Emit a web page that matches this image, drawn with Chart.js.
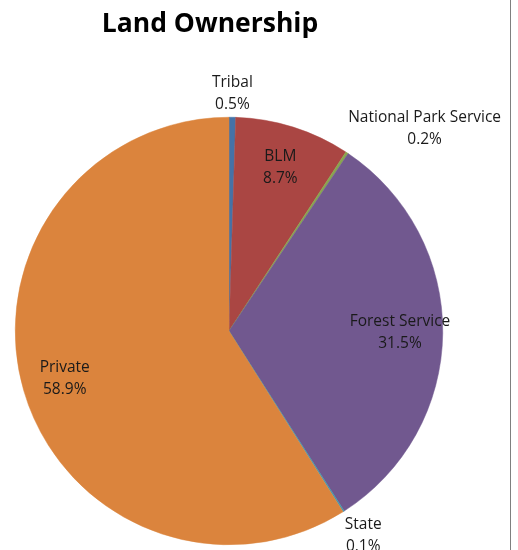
<!DOCTYPE html>
<html>
<head>
<meta charset="utf-8">
<script src="https://cdn.jsdelivr.net/npm/chart.js@4/dist/chart.umd.min.js"></script>
<style>
    html, body { margin: 0; padding: 0; background: #fff; }
    #wrap { position: relative; width: 518px; height: 550px; }
    #edge { position: absolute; left: 510px; top: 0; width: 1px; height: 550px; background: #7f7f7f; }
</style>
</head>
<body>
<div id="wrap">
    <canvas id="landChart" width="518" height="550"></canvas>
    <div id="edge"></div>
</div>
<script>
// 数据
const owners = ['Tribal', 'BLM', 'National Park Service', 'Forest Service', 'State', 'Private'];
const shares = [0.5, 8.7, 0.2, 31.5, 0.1, 58.9];
const sliceColors = ['#4572A7', '#AA4643', '#89A54E', '#71588F', '#4198AF', '#DB843D'];

const labelFont = '15.5px "Open Sans"';

// 标题
const titlePlugin = {
    id: 'plainTitle',
    afterDraw(chart) {
        const ctx = chart.ctx;
        ctx.save();
        ctx.font = 'bold 26.5px "Open Sans"';
        ctx.fillStyle = '#000';
        ctx.textAlign = 'center';
        ctx.textBaseline = 'middle';
        ctx.fillText('Land Ownership', 210, 24);
        ctx.restore();
    }
};

// 数据标签：小扇区放外面，大扇区放里面，每行居中
const sliceLabels = {
    id: 'sliceLabels',
    afterDatasetsDraw(chart) {
        const ctx = chart.ctx;
        const meta = chart.getDatasetMeta(0);
        ctx.save();
        ctx.font = labelFont;
        ctx.fillStyle = '#1a1a1a';
        ctx.textAlign = 'center';
        ctx.textBaseline = 'middle';
        const lineH = 22;
        meta.data.forEach((arc, i) => {
            const p = arc.getProps(['x', 'y', 'startAngle', 'endAngle', 'outerRadius'], true);
            const mid = (p.startAngle + p.endAngle) / 2;
            const lines = [owners[i], shares[i].toFixed(1) + '%'];
            const blockW = Math.max(...lines.map(t => ctx.measureText(t).width));
            const outside = shares[i] < 1;
            const r = outside ? p.outerRadius * 1.01 : p.outerRadius * 0.8;
            const ax = p.x + Math.cos(mid) * r;
            const ay = p.y + Math.sin(mid) * r;
            let cx = ax, top;
            if (outside) {
                const c = Math.cos(mid);
                if (Math.abs(c) >= 0.1) cx = c > 0 ? ax + blockW / 2 : ax - blockW / 2;
                top = Math.sin(mid) < 0 ? ay - lineH * lines.length : ay;
            } else {
                top = ay - lineH * lines.length / 2;
            }
            lines.forEach((t, k) => ctx.fillText(t, cx, top + lineH * (k + 0.5)));
        });
        ctx.restore();
    }
};

const ctx = document.getElementById('landChart').getContext('2d');
new Chart(ctx, {
    type: 'pie',
    data: {
        labels: owners,
        datasets: [{
            data: shares,
            backgroundColor: sliceColors,
            borderColor: sliceColors,
            borderWidth: 0.5
        }]
    },
    options: {
        responsive: false,
        animation: false,
        layout: {
            padding: { left: 15, right: 75, top: 117, bottom: 5 }
        },
        plugins: {
            legend: { display: false },
            tooltip: { enabled: false },
            title: { display: false }
        }
    },
    plugins: [titlePlugin, sliceLabels]
});
</script>
</body>
</html>
